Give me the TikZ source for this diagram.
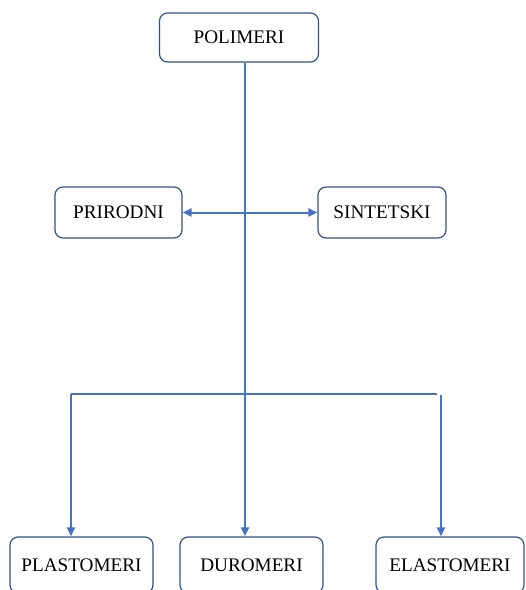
\documentclass[tikz,border=0pt]{standalone}
\usepackage{fontspec}
\setmainfont{Liberation Serif}
\usetikzlibrary{arrows.meta}
\definecolor{linkblue}{RGB}{68,114,196}
\definecolor{edgeblue}{RGB}{47,82,143}
\begin{document}
\begin{tikzpicture}[x=1pt, y=-1pt,
		box/.style={draw=edgeblue, line width=1.2pt, rounded corners=8pt, fill=white, inner sep=0pt, font=\fontsize{19.2}{21}\selectfont},
		link/.style={draw=linkblue, line width=2pt},
		tip/.style={-{Triangle[length=9pt, width=8pt]}}]
		\useasboundingbox (0,0) rectangle (526,590);
		\clip (0,0) rectangle (526,590);
		\node[box, minimum width=159pt, minimum height=49pt] (polimeri) at (239,37.5) {POLIMERI};
		\node[box, minimum width=127pt, minimum height=51pt] (prirodni) at (118.5,212.5) {PRIRODNI};
		\node[box, minimum width=128pt, minimum height=51pt] (sintetski) at (382,212.5) {SINTETSKI};
		\node[box, minimum width=143pt, minimum height=56pt] (plastomeri) at (81.5,565) {PLASTOMERI};
		\node[box, minimum width=143pt, minimum height=56pt] (duromeri) at (251.5,565) {DUROMERI};
		\node[box, minimum width=148pt, minimum height=56pt] (elastomeri) at (450,565) {ELASTOMERI};
		\coordinate (trunk) at (245,394);
		\coordinate (lbranch) at (71,394);
		\coordinate (rbranch) at (437,394);
		\coordinate (rdrop) at (441,395);
		\draw[link, tip] (polimeri.south -| trunk) -- (duromeri.north -| trunk);
		\draw[link, {Triangle[length=9pt, width=8pt]}-{Triangle[length=9pt, width=8pt]}] (prirodni) -- (sintetski);
		\draw[link] (lbranch) -- (rbranch);
		\draw[link, tip] (lbranch) -- (plastomeri.north -| lbranch);
		\draw[link, tip] (rdrop) -- (elastomeri.north -| rdrop);
		\end{tikzpicture}
\end{document}
